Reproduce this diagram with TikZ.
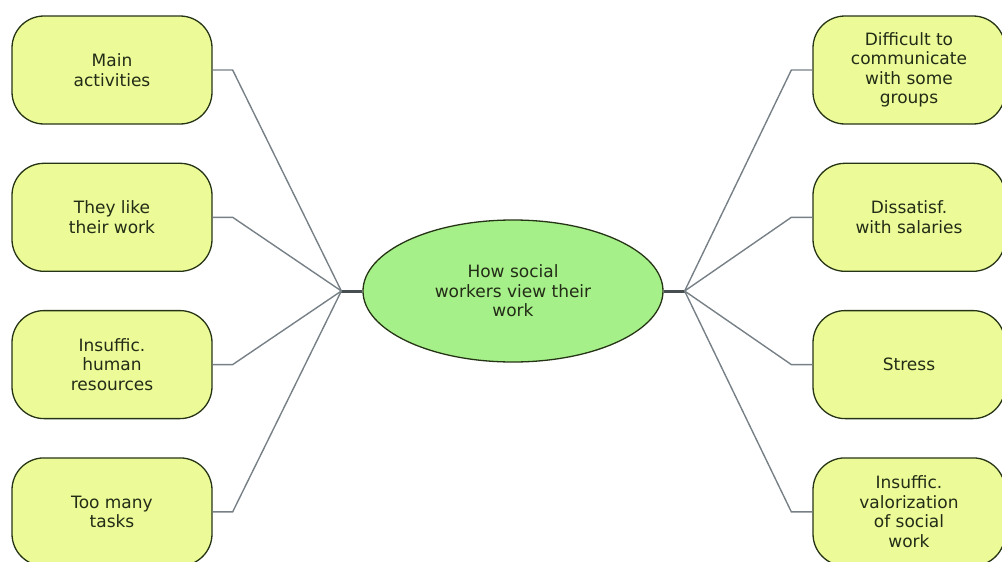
\documentclass[tikz,border=0pt]{standalone}
\usepackage{fontspec}
\setmainfont{DejaVu Sans}
\usepackage{xcolor}
\usetikzlibrary{positioning,shapes.geometric}

\definecolor{boxfill}{RGB}{236,250,152}
\definecolor{corefill}{RGB}{166,240,138}
\definecolor{edgecol}{RGB}{38,52,22}
\definecolor{txtcol}{RGB}{34,44,22}
\definecolor{linecol}{RGB}{118,128,134}
\definecolor{hubcol}{RGB}{70,78,80}

\begin{document}
\begin{tikzpicture}[
  x=1pt, y=-1pt,
  node distance=38pt,
  topic/.style={rectangle, draw=edgecol, line width=1.3pt, fill=boxfill,
                rounded corners=32pt, minimum width=200pt, minimum height=108pt,
                align=center, text=txtcol, font=\fontsize{17}{19.5}\selectfont},
  core/.style={ellipse, draw=edgecol, line width=1.3pt, fill=corefill,
               minimum width=300pt, minimum height=142pt, inner sep=0pt,
               align=center, text=txtcol, font=\fontsize{17}{19.5}\selectfont},
  conn/.style={draw=linecol, line width=1.4pt},
  hub/.style={draw=hubcol, line width=3pt}
]
\useasboundingbox (0,0) rectangle (1002,562);

\node[core] (ctr) at (513,291) {How social\\workers view their\\work};

% left column
\node[topic] (main) at (112,70) {Main\\activities};
\node[topic, below=of main] (like) {They like\\their work};
\node[topic, below=of like] (human) {Insuffic.\\human\\resources};
\node[topic, below=of human] (tasks) {Too many\\tasks};

% right column
\node[topic, minimum width=192pt] (comm) at (909,70) {Difficult to\\communicate\\with some\\groups};
\node[topic, minimum width=192pt, below=of comm] (salary) {Dissatisf.\\with salaries};
\node[topic, minimum width=192pt, below=of salary] (stress) {Stress};
\node[topic, minimum width=192pt, below=of stress] (valor) {Insuffic.\\valorization\\of social\\work};

\coordinate (hl) at ([xshift=-21pt]ctr.west);
\coordinate (hr) at ([xshift=21pt]ctr.east);

\draw[hub] (hl) -- (ctr.west);
\draw[hub] (ctr.east) -- (hr);

\draw[conn] (main.east) -- ++(20,0) -- (hl);
\draw[conn] (like.east) -- ++(20,0) -- (hl);
\draw[conn] (human.east) -- ++(20,0) -- (hl);
\draw[conn] (tasks.east) -- ++(20,0) -- (hl);

\draw[conn] (comm.west) -- ++(-21,0) -- (hr);
\draw[conn] (salary.west) -- ++(-21,0) -- (hr);
\draw[conn] (stress.west) -- ++(-21,0) -- (hr);
\draw[conn] (valor.west) -- ++(-21,0) -- (hr);
\end{tikzpicture}
\end{document}
